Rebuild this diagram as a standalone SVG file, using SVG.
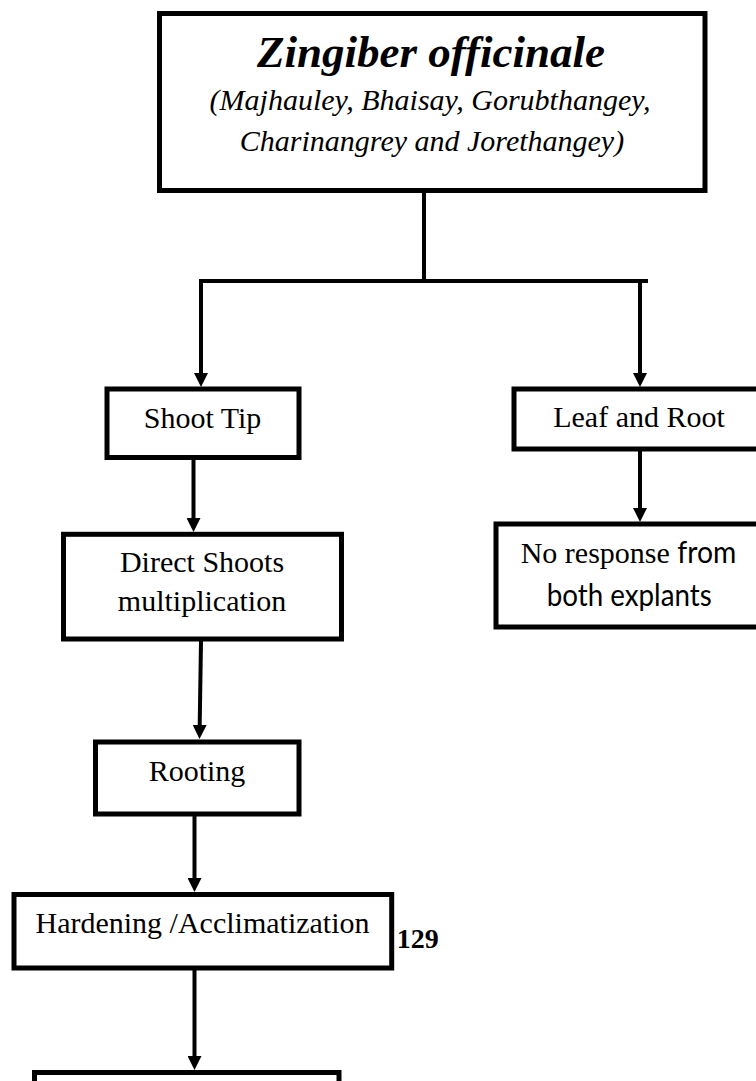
<svg xmlns="http://www.w3.org/2000/svg" width="756" height="1081" viewBox="0 0 756 1081">
<style>
.box{fill:#fff;stroke:#000;stroke-width:5}
.t{font-family:"Liberation Serif","Times New Roman",serif;font-size:30px;fill:#000}
.c{text-anchor:middle}
.sans{font-family:Lato,"Open Sans","Liberation Sans",sans-serif;font-size:30px}
.ln{fill:none;stroke:#000;stroke-width:4}
</style>
<defs>
<marker id="ah" markerUnits="userSpaceOnUse" markerWidth="14" markerHeight="14" refX="6" refY="7" orient="auto">
<path d="M0,0 L14,7 L0,14 Z" fill="#000"/>
</marker>
</defs>
<rect width="756" height="1081" fill="#fff"/>
<g id="connectors">
<path class="ln" d="M424,192 L424,281"/>
<path class="ln" d="M199,281 L648,281"/>
<path class="ln" d="M201,279 L201,379" marker-end="url(#ah)"/>
<path class="ln" d="M640,279 L640,379" marker-end="url(#ah)"/>
<path class="ln" d="M193.5,460 L193.5,524" marker-end="url(#ah)"/>
<path class="ln" d="M640,451 L640,514" marker-end="url(#ah)"/>
<path class="ln" d="M201,641 L199.6,731" marker-end="url(#ah)"/>
<path class="ln" d="M194.5,816 L194.5,884" marker-end="url(#ah)"/>
<path class="ln" d="M194.5,970 L194.5,1062" marker-end="url(#ah)"/>
</g>
<g id="node-title">
<rect class="box" x="159.5" y="13.5" width="545.5" height="177"/>
<text class="t c" x="431" y="67" font-size="45" font-weight="bold" font-style="italic" style="font-size:45px">Zingiber officinale</text>
<text class="t c" x="430" y="110" font-style="italic">(Majhauley, Bhaisay, Gorubthangey,</text>
<text class="t c" x="432" y="151" font-style="italic">Charinangrey and Jorethangey)</text>
</g>
<g id="node-shoot-tip">
<rect class="box" x="107" y="389" width="192" height="68.5"/>
<text class="t c" x="202.5" y="428.3">Shoot Tip</text>
</g>
<g id="node-leaf-root">
<rect class="box" x="514" y="389" width="260" height="60"/>
<text class="t c" x="639" y="427.3">Leaf and Root</text>
</g>
<g id="node-direct">
<rect class="box" x="63.5" y="534.3" width="278" height="104.7"/>
<text class="t c" x="202" y="571.7">Direct Shoots</text>
<text class="t c" x="202" y="610.7">multiplication</text>
</g>
<g id="node-no-response">
<rect class="box" x="496" y="524" width="300" height="103"/>
<text class="t" x="520.7" y="562.7">No response <tspan class="sans" textLength="59" lengthAdjust="spacingAndGlyphs">from</tspan></text>
<text class="t sans" x="546.7" y="606" textLength="165" lengthAdjust="spacingAndGlyphs">both explants</text>
</g>
<g id="node-rooting">
<rect class="box" x="95.5" y="742" width="203.5" height="72"/>
<text class="t c" x="197" y="780.7">Rooting</text>
</g>
<g id="node-hardening">
<rect class="box" x="14" y="894.5" width="377.7" height="73.5"/>
<text class="t c" x="202.5" y="932.7">Hardening /Acclimatization</text>
</g>
<g id="page-number">
<text class="t" x="396.7" y="948.3" font-weight="bold" style="font-size:28px">129</text>
</g>
<g id="node-bottom">
<rect class="box" x="34.5" y="1072.5" width="304.5" height="60"/>
</g>
</svg>
